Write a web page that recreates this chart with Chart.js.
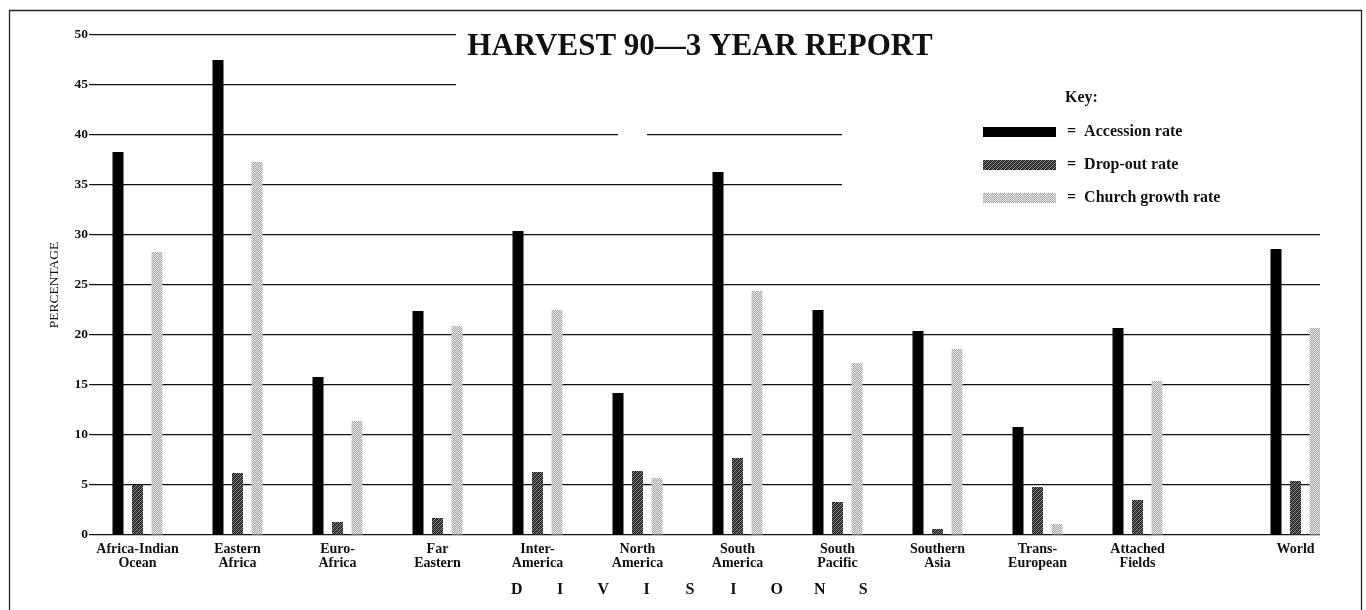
<!DOCTYPE html>
<html>
<head>
<meta charset="utf-8">
<title>Harvest 90 - 3 Year Report</title>
<script src="https://cdn.jsdelivr.net/npm/chart.js@4.4.1/dist/chart.umd.min.js"></script>
<style>
  html, body { margin: 0; padding: 0; background: #fff; }
  canvas { display: block; }
</style>
</head>
<body>
<canvas id="myChart" width="1366" height="610"></canvas>
<script>
// divisions, each split on the two lines used under the axis
const divisions = [
  ['Africa-Indian', 'Ocean'], ['Eastern', 'Africa'], ['Euro-', 'Africa'], ['Far', 'Eastern'],
  ['Inter-', 'America'], ['North', 'America'], ['South', 'America'], ['South', 'Pacific'],
  ['Southern', 'Asia'], ['Trans-', 'European'], ['Attached', 'Fields'], ['World']
];
const accessionRate = [38.3, 47.5, 15.8, 22.4, 30.4, 14.2, 36.3, 22.5, 20.4, 10.8, 20.7, 28.6];
const dropOutRate   = [5.0, 6.2, 1.3, 1.7, 6.3, 6.4, 7.7, 3.3, 0.6, 4.8, 3.5, 5.4];
const churchGrowth  = [28.3, 37.3, 11.4, 20.9, 22.5, 5.7, 24.4, 17.2, 18.6, 1.1, 15.4, 20.7];
const yTicks = [0, 5, 10, 15, 20, 25, 30, 35, 40, 45, 50];

const seriesNames = ['Accession rate', 'Drop-out rate', 'Church growth rate'];

// World sits a little apart from the divisions
const worldGap = 0.58;
const groupX = divisions.map((d, i) => i === divisions.length - 1 ? i + worldGap : i);

const SERIF = '"Liberation Serif", "DejaVu Serif", serif';
Chart.defaults.font.family = SERIF;
Chart.defaults.color = '#111';

// dithered grey fills like the printed screens
function screen(rows, colours) {
    const c = document.createElement('canvas');
    c.width = rows[0].length; c.height = rows.length;
    const g = c.getContext('2d');
    rows.forEach((row, y) => {
        [...row].forEach((ch, x) => {
            g.fillStyle = colours[ch];
            g.fillRect(x, y, 1, 1);
        });
    });
    return g.createPattern(c, 'repeat');
}
const darkScreen = screen(['#.#+', '.#+#', '#+#.', '+#.#'], {'#': '#1c1c1c', '.': '#9a9a9a', '+': '#5a5a5a'});
const lightScreen = screen(['o.o-', '.o-o', 'o-o.', '-o.o'], {'o': '#e6e6e6', '.': '#9c9c9c', '-': '#b4b4b4'});

const ctx = document.getElementById('myChart').getContext('2d');

function points(values) {
    return values.map((v, i) => ({x: groupX[i], y: v}));
}

const paper = {
    id: 'paper',
    beforeDatasetsDraw(chart) {
        const {ctx, chartArea, scales: {y}} = chart;
        const r = chartArea.right + 2;
        ctx.save();
        ctx.fillStyle = '#fff';
        // the title and key sit over the upper grid lines
        ctx.fillRect(456, y.getPixelForValue(51), r - 456, y.getPixelForValue(42.5) - y.getPixelForValue(51));
        ctx.fillRect(842, y.getPixelForValue(42.5), r - 842, y.getPixelForValue(32.5) - y.getPixelForValue(42.5));
        ctx.fillRect(618, y.getPixelForValue(41), 29, y.getPixelForValue(39) - y.getPixelForValue(41));
        ctx.restore();
    },
    afterDraw(chart) {
        ctx.save();
        ctx.fillStyle = '#111';

        ctx.font = 'bold 31px ' + SERIF;
        ctx.textAlign = 'center';
        ctx.textBaseline = 'alphabetic';
        ctx.fillText('HARVEST 90\u20143 YEAR REPORT', 700, 55);

        // key
        ctx.font = 'bold 16px ' + SERIF;
        ctx.textAlign = 'left';
        ctx.textBaseline = 'middle';
        ctx.fillText('Key:', 1065, 98);
        chart.data.datasets.forEach((ds, i) => {
            const yy = 132 + i * 33;
            ctx.fillStyle = ds.backgroundColor;
            ctx.fillRect(983, yy - 5, 73, 10);
            ctx.fillStyle = '#111';
            ctx.fillText('=  ' + ds.label, 1067, yy);
        });

        // spaced out axis name
        ctx.font = 'bold 16px ' + SERIF;
        ctx.textAlign = 'center';
        const word = 'DIVISIONS';
        [...word].forEach((ch, i) => {
            ctx.fillText(ch, 690 + (i - 4) * 43.3, 590);
        });

        // frame
        ctx.strokeStyle = '#222';
        ctx.lineWidth = 1.3;
        ctx.beginPath();
        ctx.moveTo(9.5, 612);
        ctx.lineTo(9.5, 10.5);
        ctx.lineTo(1361.5, 10.5);
        ctx.lineTo(1361.5, 612);
        ctx.stroke();
        ctx.restore();
    }
};

new Chart(ctx, {
    type: 'bar',
    data: {
        datasets: [
            {label: seriesNames[0], data: points(accessionRate), backgroundColor: '#000'},
            {label: seriesNames[1], data: points(dropOutRate), backgroundColor: darkScreen},
            {label: seriesNames[2], data: points(churchGrowth), backgroundColor: lightScreen}
        ]
    },
    options: {
        responsive: false,
        animation: false,
        layout: {padding: {top: 35, right: 46, left: 0, bottom: 0}},
        datasets: {bar: {categoryPercentage: 0.585, barPercentage: 0.564}},
        plugins: {
            legend: {display: false},
            tooltip: {enabled: false}
        },
        scales: {
            x: {
                type: 'linear',
                offset: false,
                min: -0.445,
                max: 11.825,
                grid: {display: false, drawTicks: false},
                border: {display: false},
                afterBuildTicks: s => { s.ticks = groupX.map(v => ({value: v})); },
                afterFit: s => { s.height = 75; },
                ticks: {
                    autoSkip: false,
                    maxRotation: 0,
                    padding: 7,
                    color: '#111',
                    font: {size: 14, weight: 'bold', lineHeight: 1.0},
                    callback: (v, i) => divisions[i]
                }
            },
            y: {
                min: 0,
                max: 50,
                afterBuildTicks: s => { s.ticks = yTicks.map(v => ({value: v})); },
                afterFit: s => { s.width = 93; },
                grid: {color: '#111', lineWidth: 1.2, tickLength: 4},
                border: {display: false},
                ticks: {padding: 1, color: '#111', font: {size: 13.5, weight: 'bold'}},
                title: {display: true, text: 'PERCENTAGE', color: '#111', font: {size: 13.5}, padding: {top: 46}}
            }
        }
    },
    plugins: [paper]
});
</script>
</body>
</html>
